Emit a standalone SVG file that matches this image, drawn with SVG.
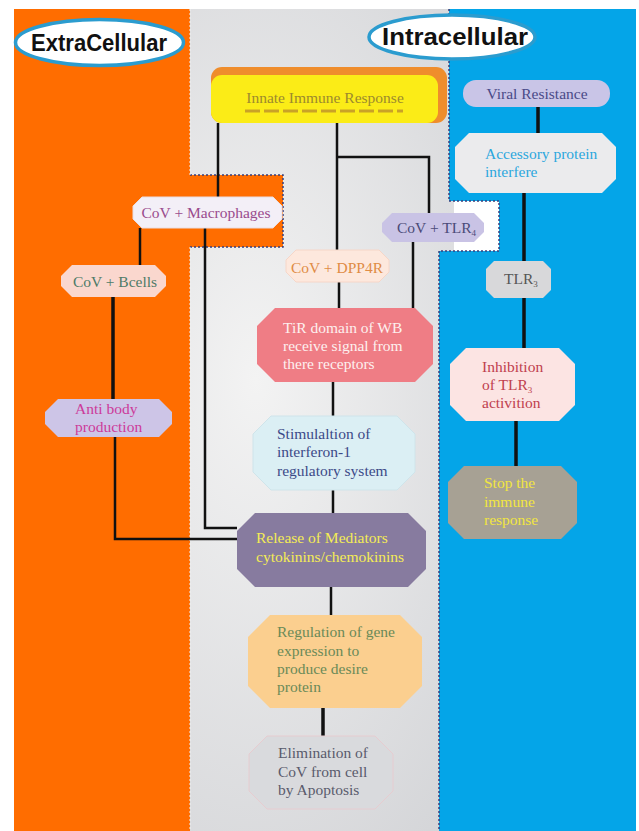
<svg xmlns="http://www.w3.org/2000/svg" width="639" height="831" viewBox="0 0 639 831">
<defs>
<radialGradient id="gbg" cx="0.55" cy="0.45" r="0.7">
<stop offset="0" stop-color="#f3f3f3"/>
<stop offset="1" stop-color="#d4d5d8"/>
</radialGradient>
<style>
.t{font-family:"Liberation Serif","DejaVu Serif",serif;font-size:15.5px}
.c{text-anchor:middle}
.h{font-family:"Liberation Sans","DejaVu Sans",sans-serif;font-weight:bold;font-size:24px;fill:#111;text-anchor:middle}
.ell{fill:#fff;stroke:#2b9ccf;stroke-width:3.5}
.cn{fill:none;stroke:#111;stroke-width:2.5}
.cn2{fill:none;stroke:#111;stroke-width:3.5}
.dot{fill:none;stroke:#3a3f7a;stroke-width:1.5;stroke-dasharray:2,2}
.dotw{fill:none;stroke:#f2f2f2;stroke-width:1;stroke-dasharray:2,2}
.sub{font-size:9px}
</style>
</defs>
<rect width="639" height="831" fill="#fff"/>
<g id="background">
<rect x="14" y="9" width="440" height="822" fill="url(#gbg)"/>
<path d="M14,9 H190 V175 H283 V247 H190 V831 H14 Z" fill="#ff6d00"/>
<path d="M449,9 H636 V831 H439 V251 H499 V201 H449 Z" fill="#04a5e8"/>
<path class="dot" d="M190,175 H283 V247 H190"/>
<path class="dotw" d="M190,9 V175 M190,247 V831"/>
<path class="dot" d="M449,9 V201 H499 V251 H439 V831"/>
</g>
<g id="title-extracellular">
<ellipse class="ell" cx="99.5" cy="42.5" rx="84" ry="23"/>
<text class="h" x="99" y="51" textLength="136" lengthAdjust="spacingAndGlyphs">ExtraCellular</text>
</g>
<g id="title-intracellular">
<ellipse class="ell" cx="452" cy="37" rx="83" ry="22"/>
<text class="h" x="455" y="45" textLength="146" lengthAdjust="spacingAndGlyphs">Intracellular</text>
</g>
<g id="connectors">
<path class="cn" d="M218,123 V197"/>
<path class="cn" d="M337,123 V250"/>
<path class="cn" d="M337,157 H429 V213"/>
<path class="cn" d="M339,282 V308"/>
<path class="cn" d="M413,242 V308"/>
<path class="cn" d="M333,382 V416"/>
<path class="cn" d="M333,490 V513"/>
<path class="cn" d="M205,228 V528 H237"/>
<path class="cn" d="M140,228 V265"/>
<path class="cn2" d="M113,297 V399"/>
<path class="cn" d="M115,437 V539 H237"/>
<path class="cn" d="M331,587 V615"/>
<path class="cn2" d="M323,708 V736"/>
<path class="cn2" d="M538,107 V133"/>
<path class="cn2" d="M524,193 V261"/>
<path class="cn2" d="M524,298 V348"/>
<path class="cn2" d="M516,421 V466"/>
</g>
<g id="innate">
<rect x="211" y="67" width="236" height="56" rx="11" fill="#ef8d2c"/>
<rect x="211" y="75" width="227" height="48" rx="11" fill="#fbec17"/>
<text class="t c" x="325" y="103" fill="#9c8a2e" font-size="16.5">Innate Immune Response</text>
<line x1="245" y1="111" x2="403" y2="111" stroke="#c9a227" stroke-width="3" stroke-dasharray="15,4"/>
</g>
<g id="macrophages">
<path d="M142,197 H273 L282,206 V219 L273,228 H142 L133,219 V206 Z" fill="#f3eff7" stroke="#eadde0" stroke-width="1"/>
<text class="t c" x="206" y="218" fill="#9a4b8d">CoV + Macrophages</text>
</g>
<g id="bcells">
<path d="M72,265 H155 L166,276 V286 L155,297 H72 L61,286 V276 Z" fill="#fad7ce"/>
<text class="t c" x="115" y="287" fill="#4e7b68">CoV + Bcells</text>
</g>
<g id="antibody">
<path d="M58,399 H159 L172,412 V424 L159,437 H58 L45,424 V412 Z" fill="#cdc5e7"/>
<text class="t" x="75" y="414" fill="#cc3a9a">Anti body</text>
<text class="t" x="75" y="432" fill="#cc3a9a">production</text>
</g>
<g id="dpp4r">
<path d="M296,250 H379 L389,260 V272 L379,282 H296 L286,272 V260 Z" fill="#fde8dd" stroke="#f6d6c8" stroke-width="1"/>
<text class="t c" x="337" y="273" fill="#e08c45">CoV + DPP4R</text>
</g>
<g id="tlr4">
<path d="M392,213 H474 L484,223 V232 L474,242 H392 L382,232 V223 Z" fill="#c9c3e5"/>
<text class="t" x="397" y="233" fill="#4b4b78">CoV + TLR<tspan class="sub" dy="3">4</tspan></text>
</g>
<g id="tir">
<path d="M275,308 H415 L433,326 V364 L415,382 H275 L257,364 V326 Z" fill="#ef7d85"/>
<text class="t" x="283" y="333" fill="#fdf0ef">TiR domain of WB</text>
<text class="t" x="283" y="351" fill="#fdf0ef">receive signal from</text>
<text class="t" x="283" y="369" fill="#fdf0ef">there receptors</text>
</g>
<g id="stimulation">
<path d="M271,416 H397 L415,434 V472 L397,490 H271 L253,472 V434 Z" fill="#dbeff4" stroke="#cfe4ea" stroke-width="1"/>
<text class="t" x="277" y="439" fill="#3b4a88">Stimulaltion of</text>
<text class="t" x="277" y="457" fill="#3b4a88">interferon-1</text>
<text class="t" x="277" y="476" fill="#3b4a88">regulatory system</text>
</g>
<g id="release">
<path d="M255,513 H408 L426,531 V569 L408,587 H255 L237,569 V531 Z" fill="#877b9f"/>
<text class="t" x="256" y="543" fill="#f4ec55">Release of Mediators</text>
<text class="t" x="256" y="562" fill="#f4ec55">cytokinins/chemokinins</text>
</g>
<g id="regulation">
<path d="M270,615 H400 L422,637 V686 L400,708 H270 L248,686 V637 Z" fill="#fbcf8f"/>
<text class="t" x="277" y="637" fill="#6a8a58">Regulation of gene</text>
<text class="t" x="277" y="656" fill="#6a8a58">expression to</text>
<text class="t" x="277" y="674" fill="#6a8a58">produce desire</text>
<text class="t" x="277" y="692" fill="#6a8a58">protein</text>
</g>
<g id="elimination">
<path d="M267,736 H375 L393,754 V791 L375,809 H267 L249,791 V754 Z" fill="#d9dadd" stroke="#e6ccd0" stroke-width="1"/>
<text class="t" x="278" y="758" fill="#5a5a6c">Elimination of</text>
<text class="t" x="278" y="777" fill="#5a5a6c">CoV from cell</text>
<text class="t" x="278" y="795" fill="#5a5a6c">by Apoptosis</text>
</g>
<g id="viral-resistance">
<rect x="463" y="80" width="147" height="27" rx="13" fill="#c9c5e7"/>
<text class="t c" x="537" y="99" fill="#4a4a88">Viral Resistance</text>
</g>
<g id="accessory">
<path d="M469,133 H602 L616,147 V179 L602,193 H469 L455,179 V147 Z" fill="#ebebed"/>
<text class="t" x="485" y="159" fill="#2ba7dd">Accessory protein</text>
<text class="t" x="485" y="177" fill="#2ba7dd">interfere</text>
</g>
<g id="tlr3">
<path d="M494,261 H543 L551,269 V290 L543,298 H494 L486,290 V269 Z" fill="#d8d8da"/>
<text class="t" x="504" y="284" fill="#555">TLR<tspan class="sub" dy="3">3</tspan></text>
</g>
<g id="inhibition">
<path d="M466,348 H559 L575,364 V405 L559,421 H466 L450,405 V364 Z" fill="#fce4e3"/>
<text class="t" x="482" y="372" fill="#c0404e">Inhibition</text>
<text class="t" x="482" y="390" fill="#c0404e">of TLR<tspan class="sub" dy="3">3</tspan></text>
<text class="t" x="482" y="408" fill="#c0404e">activition</text>
</g>
<g id="stop">
<path d="M464,466 H561 L577,482 V523 L561,539 H464 L448,523 V482 Z" fill="#a7a194"/>
<text class="t" x="484" y="488" fill="#f2e640">Stop the</text>
<text class="t" x="484" y="507" fill="#f2e640">immune</text>
<text class="t" x="484" y="525" fill="#f2e640">response</text>
</g>
</svg>
